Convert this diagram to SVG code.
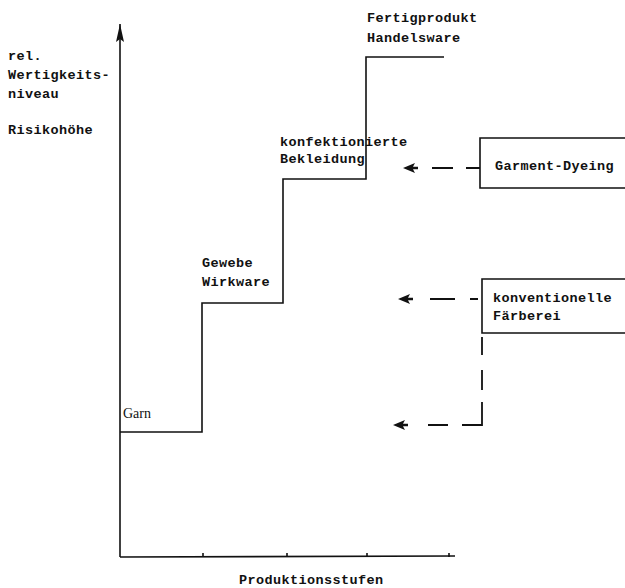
<svg xmlns="http://www.w3.org/2000/svg" width="625" height="588" viewBox="0 0 625 588">
  <style>
    .t { font-family: "Liberation Mono", "DejaVu Sans Mono", monospace; font-weight: bold; font-size: 13.5px; letter-spacing: 0.4px; fill: #111; }
    .serif { font-family: "Liberation Serif", serif; font-size: 14px; fill: #111; }
    .ln { stroke: #111; stroke-width: 1.6; fill: none; }
    .dash { stroke: #111; stroke-width: 1.8; fill: none; }
    .head { fill: #111; }
  </style>
  <defs>
    <marker id="axis" viewBox="0 0 10 18" refX="5" refY="0" markerWidth="10" markerHeight="18" markerUnits="userSpaceOnUse" orient="0">
      <path d="M5,0 L9,18 L5,15 L1,18 Z" fill="#111"/>
    </marker>
    <!-- left-pointing arrowhead, tip at origin -->
    <path id="lhead" d="M0,0 L12,-5 L10,-1.2 L15,-1.2 L15,1.2 L10,1.2 L12,5 Z"/>
  </defs>

  <!-- axes -->
  <g id="axes">
    <line class="ln" x1="120" y1="557" x2="120" y2="24" marker-end="url(#axis)"/>
    <line class="ln" x1="120" y1="557" x2="455" y2="556"/>
    <path class="ln" d="M203,557 v-4 M287,557 v-4 M367,557 v-4 M449,557 v-4"/>
    <text class="t" x="8" y="60">rel.</text>
    <text class="t" x="8" y="79">Wertigkeits-</text>
    <text class="t" x="8" y="98">niveau</text>
    <text class="t" x="8" y="134">Risikohöhe</text>
    <text class="t" x="239" y="584">Produktionsstufen</text>
  </g>

  <!-- staircase of production stages -->
  <g id="stairs">
    <path class="ln" d="M120,432 H202 V303 H283 V179 H366 V57 H444"/>
  </g>
  <g id="garn"><text class="serif" x="123" y="418">Garn</text></g>
  <g id="gewebe">
    <text class="t" x="202" y="267">Gewebe</text>
    <text class="t" x="202" y="286">Wirkware</text>
  </g>
  <g id="bekleidung">
    <text class="t" x="280" y="146">konfektionierte</text>
    <text class="t" x="280" y="163">Bekleidung</text>
  </g>
  <g id="fertigprodukt">
    <text class="t" x="367" y="22">Fertigprodukt</text>
    <text class="t" x="367" y="42">Handelsware</text>
  </g>

  <!-- dyeing options -->
  <g id="garment-dyeing">
    <path class="ln" d="M625,138 H480 V188 H625"/>
    <text class="t" x="495" y="170">Garment-Dyeing</text>
  </g>
  <g id="konventionelle">
    <path class="ln" d="M625,279 H482 V333 H625"/>
    <text class="t" x="493" y="302">konventionelle</text>
    <text class="t" x="493" y="320">Färberei</text>
  </g>

  <!-- dashed connectors -->
  <g id="connectors">
    <path class="dash" d="M480,168 H466 M453,168 H432"/>
    <use href="#lhead" class="head" x="403" y="168"/>
    <path class="dash" d="M478,299 H470 M455,299 H430"/>
    <use href="#lhead" class="head" x="398" y="299"/>
    <path class="dash" d="M482,337 V355 M482,370 V390 M482,402 V425 H462 M448,425 H428"/>
    <use href="#lhead" class="head" x="393" y="425"/>
  </g>
</svg>
